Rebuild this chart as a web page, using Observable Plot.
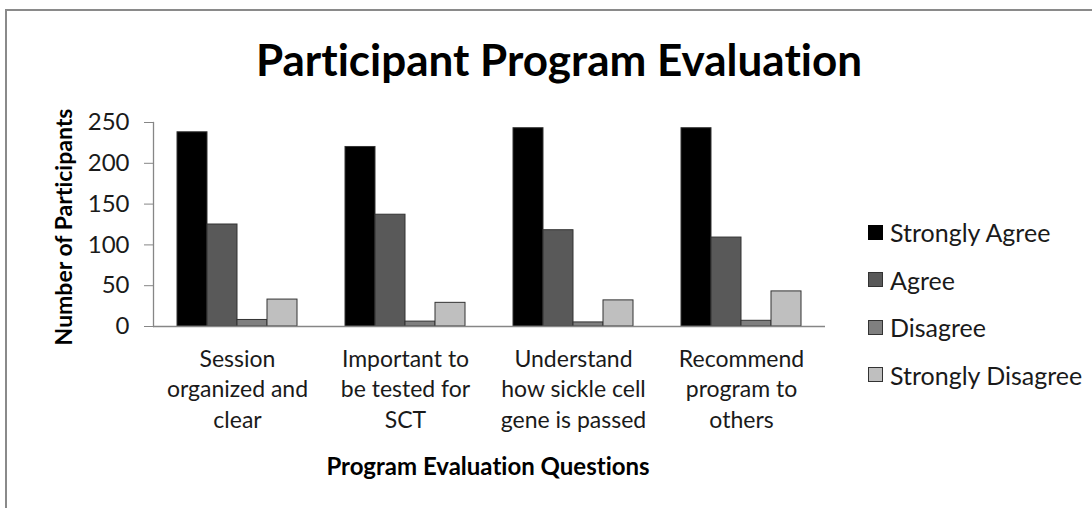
<!DOCTYPE html>
<html>
<head>
<meta charset="utf-8">
<script src="https://cdn.jsdelivr.net/npm/d3@7"></script>
<script src="https://cdn.jsdelivr.net/npm/@observablehq/plot@0.6"></script>
<style>
  html, body { margin: 0; padding: 0; background: #fff; }
  #wrap { position: relative; width: 1092px; height: 508px; overflow: hidden; font-family: Lato, "Open Sans", sans-serif; color: #1a1a1a; font-variant-ligatures: none; font-feature-settings: "liga" 0; }
  #wrap svg text { font-variant-ligatures: none; }
  #frame { position: absolute; left: 5px; top: 9px; width: 1200px; height: 600px; border: 2px solid #8a8a8a; }
  #title { position: absolute; left: 559px; top: 37px; transform: translateX(-50%); font-size: 44px; font-weight: 700; line-height: 44px; white-space: nowrap; color: #000; }
  #ytitle { position: absolute; left: 63px; top: 227px; transform: translate(-50%, -50%) rotate(-90deg); font-size: 23px; font-weight: 700; white-space: nowrap; color: #000; }
  #xtitle { position: absolute; left: 488px; top: 465px; transform: translate(-50%, -50%); font-size: 24px; font-weight: 700; white-space: nowrap; color: #000; }
  #legend { position: absolute; left: 868px; top: 0; }
  .lg { position: absolute; left: 0; display: flex; align-items: center; height: 30px; transform: translateY(-50%); white-space: nowrap; font-size: 25px; }
  .sw { width: 15px; height: 15px; box-sizing: border-box; border: 1px solid #333; margin-right: 7px; flex: none; }
</style>
</head>
<body>
<div id="wrap">
  <div id="frame"></div>
  <div id="chart"></div>
  <div id="title"></div>
  <div id="ytitle"></div>
  <div id="xtitle"></div>
  <div id="legend"></div>
</div>
<script>
// ---- data ----
const chartTitle = "Participant Program Evaluation";
const yTitle = "Number of Participants";
const xTitle = "Program Evaluation Questions";
const questions = [
  "Session organized and clear",
  "Important to be tested for SCT",
  "Understand how sickle cell gene is passed",
  "Recommend program to others"
];
const questionLabels = [
  "Session\norganized and\nclear",
  "Important to\nbe tested for\nSCT",
  "Understand\nhow sickle cell\ngene is passed",
  "Recommend\nprogram to\nothers"
];
const responses = ["Strongly Agree", "Agree", "Disagree", "Strongly Disagree"];
const stronglyAgree = [238, 220, 243, 243];
const agree = [125, 137, 118, 109];
const disagree = [8, 6, 5, 7];
const stronglyDisagree = [33, 29, 32, 43];
const yTicks = [0, 50, 100, 150, 200, 250];
const colors = ["#000000", "#595959", "#7f7f7f", "#bfbfbf"];

// ---- table ----
const seriesValues = [stronglyAgree, agree, disagree, stronglyDisagree];
const rows = [];
questions.forEach((q, i) => {
  responses.forEach((r, j) => rows.push({question: q, response: r, value: seriesValues[j][i]}));
});

const axisGray = "#868686";
const plot = Plot.plot({
  width: 1092,
  height: 508,
  marginLeft: 152,
  marginRight: 267,
  marginTop: 122,
  marginBottom: 182,
  style: {fontFamily: "Lato, 'Open Sans', sans-serif", background: "transparent", overflow: "visible"},
  fx: {domain: questions, padding: 0, label: null, axis: null},
  x: {domain: responses, paddingInner: 0, paddingOuter: 0.71, axis: null},
  y: {domain: [0, 250], label: null},
  color: {domain: responses, range: colors},
  marks: [
    Plot.barY(rows, {fx: "question", x: "response", y: "value", fill: "response", stroke: "#333", strokeWidth: 1}),
    Plot.ruleY([0], {stroke: axisGray, strokeWidth: 1.3}),
    Plot.frame({anchor: "left", facetAnchor: "left", stroke: axisGray, strokeWidth: 1.3}),
    Plot.axisY({ticks: yTicks, tickSize: 9, tickPadding: 15, fontSize: 24, stroke: axisGray, fill: "#1a1a1a", label: null}),
    Plot.axisFx({anchor: "bottom", tickSize: 0, tickPadding: 19, fontSize: 23, lineHeight: 1.32, fill: "#1a1a1a", label: null,
      tickFormat: d => questionLabels[questions.indexOf(d)]})
  ]
});
plot.style.position = "absolute";
plot.style.left = "0px";
plot.style.top = "0px";
document.getElementById("chart").appendChild(plot);

document.getElementById("title").textContent = chartTitle;
document.getElementById("ytitle").textContent = yTitle;
document.getElementById("xtitle").textContent = xTitle;

const legendRowCenters = [232, 279.5, 327, 374.5];
const lg = document.getElementById("legend");
responses.forEach((r, i) => {
  const row = document.createElement("div");
  row.className = "lg";
  row.style.top = legendRowCenters[i] + "px";
  const sw = document.createElement("div");
  sw.className = "sw";
  sw.style.background = colors[i];
  if (i === 0) sw.style.borderColor = "#000";
  const t = document.createElement("span");
  t.textContent = r;
  row.appendChild(sw);
  row.appendChild(t);
  lg.appendChild(row);
});
</script>
</body>
</html>
